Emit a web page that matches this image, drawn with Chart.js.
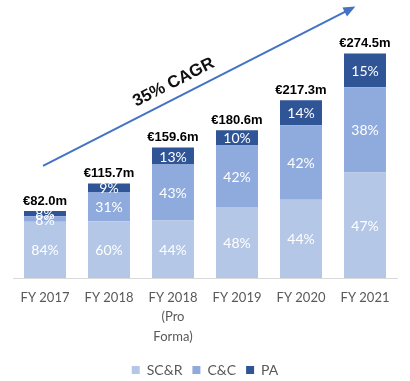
<!DOCTYPE html>
<html>
<head>
<meta charset="utf-8">
<script src="https://cdn.jsdelivr.net/npm/chart.js@4/dist/chart.umd.min.js"></script>
<style>
  html, body { margin: 0; padding: 0; background: #fff; }
  #wrap { width: 410px; height: 381px; }
</style>
</head>
<body>
<div id="wrap"><canvas id="chart" width="410" height="381"></canvas></div>
<script>
// revenue by year, € m, and the split between the three segments (%)
const categories = [['FY 2017'], ['FY 2018'], ['FY 2018', '(Pro', 'Forma)'], ['FY 2019'], ['FY 2020'], ['FY 2021']];
const totals = [82.0, 115.7, 159.6, 180.6, 217.3, 274.5];
const scrPct = [84, 60, 44, 48, 44, 47];
const ccPct = [8, 31, 43, 42, 42, 38];
const paPct = [8, 9, 13, 10, 14, 15];
const cagrLabel = '35% CAGR';

const seriesNames = ['SC&R', 'C&C', 'PA'];
const seriesPct = [scrPct, ccPct, paPct];
const seriesColors = ['#B4C7E7', '#8FAADC', '#2F5597'];

const datasets = seriesNames.map((name, s) => ({
    label: name,
    data: totals.map((t, i) => t * seriesPct[s][i] / 100),
    pct: seriesPct[s],
    backgroundColor: seriesColors[s],
    borderWidth: 0,
    categoryPercentage: 1,
    barPercentage: 0.656
}));

// percentage inside each segment, total on top of each bar
const labelPlugin = {
    id: 'labels',
    afterDatasetsDraw(chart) {
        const ctx = chart.ctx;
        ctx.save();
        ctx.textAlign = 'center';
        ctx.textBaseline = 'middle';
        ctx.font = '14px Lato';
        ctx.fillStyle = '#fff';
        chart.data.datasets.forEach((ds, d) => {
            chart.getDatasetMeta(d).data.forEach((bar, i) => {
                ctx.fillText(ds.pct[i] + '%', bar.x, (bar.y + bar.base) / 2 + 1);
            });
        });
        const top = chart.getDatasetMeta(chart.data.datasets.length - 1).data;
        ctx.font = 'bold 13px "Liberation Sans"';
        ctx.fillStyle = '#000';
        top.forEach((bar, i) => {
            ctx.fillText('€' + totals[i].toFixed(1) + 'm', bar.x, bar.y - 10);
        });
        ctx.restore();
    }
};

// growth arrow with the CAGR text
const arrowFrom = { x: 0, y: 137 };
const arrowTo = { x: 4.85, y: 332 };
const arrowPlugin = {
    id: 'arrow',
    afterDraw(chart) {
        const xs = chart.scales.x, ys = chart.scales.y;
        const x0 = xs.getPixelForValue(arrowFrom.x) - 2, y0 = ys.getPixelForValue(arrowFrom.y);
        const x1 = xs.getPixelForValue(arrowTo.x), y1 = ys.getPixelForValue(arrowTo.y);
        const ang = Math.atan2(y1 - y0, x1 - x0);
        const ctx = chart.ctx;
        ctx.save();
        ctx.strokeStyle = '#4472C4';
        ctx.fillStyle = '#4472C4';
        ctx.lineWidth = 2;
        ctx.beginPath();
        ctx.moveTo(x0, y0);
        ctx.lineTo(x1 - 8 * Math.cos(ang), y1 - 8 * Math.sin(ang));
        ctx.stroke();
        ctx.translate(x1, y1);
        ctx.rotate(ang);
        ctx.beginPath();
        ctx.moveTo(0, 0);
        ctx.lineTo(-12, -5);
        ctx.lineTo(-12, 5);
        ctx.closePath();
        ctx.fill();
        ctx.restore();

        ctx.save();
        const t = 0.44;
        ctx.translate(x0 + (x1 - x0) * t, y0 + (y1 - y0) * t);
        ctx.rotate(ang);
        ctx.font = 'bold 17px "Liberation Sans"';
        ctx.fillStyle = '#111';
        ctx.textAlign = 'center';
        ctx.textBaseline = 'middle';
        ctx.fillText(cagrLabel, 0, -15);
        ctx.restore();
    }
};

new Chart(document.getElementById('chart'), {
    type: 'bar',
    data: { labels: categories, datasets: datasets },
    plugins: [labelPlugin, arrowPlugin],
    options: {
        responsive: false,
        animation: false,
        devicePixelRatio: 1,
        layout: { padding: { left: 13, right: 13, top: 0, bottom: -6 } },
        plugins: {
            tooltip: { enabled: false },
            legend: {
                position: 'bottom',
                labels: {
                    boxWidth: 8,
                    boxHeight: 8,
                    padding: 10,
                    color: '#595959',
                    font: { family: 'Lato', size: 14 }
                }
            }
        },
        scales: {
            x: {
                stacked: true,
                grid: { display: false },
                border: { color: '#D9D9D9', width: 1 },
                afterFit(scale) { scale.height = 75; },
                ticks: {
                    color: '#595959',
                    padding: 2,
                    maxRotation: 0,
                    autoSkip: false,
                    font: { family: 'Lato', size: 13, lineHeight: 1.5 }
                }
            },
            y: {
                stacked: true,
                display: false,
                min: 0,
                max: 340
            }
        }
    }
});
</script>
</body>
</html>
